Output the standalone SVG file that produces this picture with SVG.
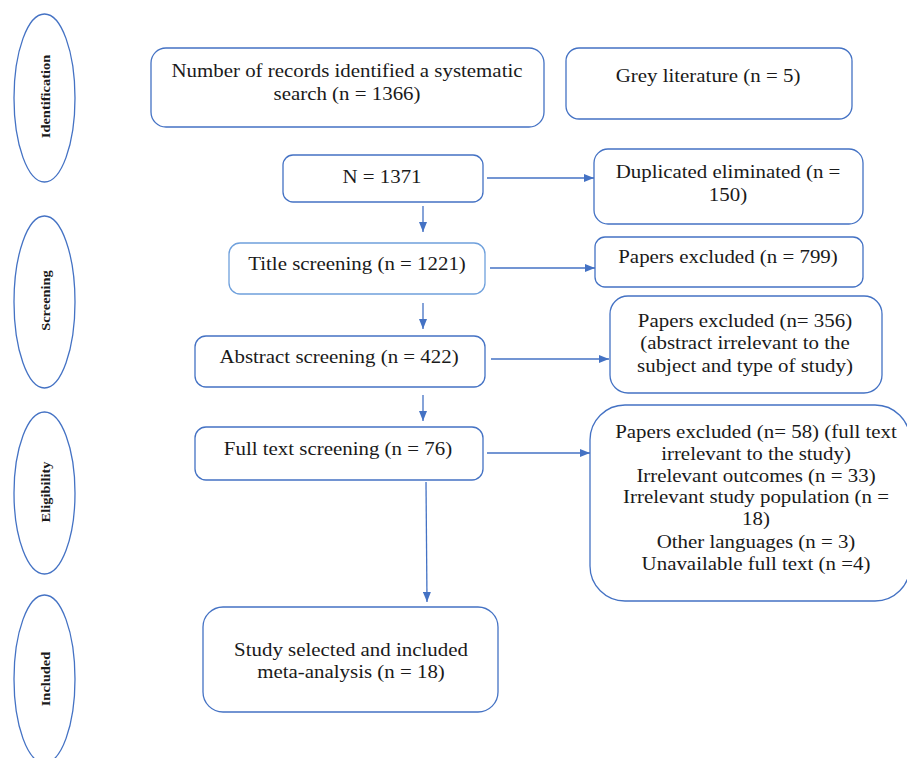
<svg xmlns="http://www.w3.org/2000/svg" width="907" height="758" viewBox="0 0 907 758">
<defs>
<style>
.box{fill:#fff;stroke:#4472C4;stroke-width:1.3}
.lbox{fill:#fff;stroke:#6FA0DC;stroke-width:1.3}
.stage{fill:#fff;stroke:#4472C4;stroke-width:1.3}
.t{font-family:"Liberation Serif","Times New Roman",serif;font-size:19px;fill:#1a1a1a;text-anchor:middle}
.s{font-family:"Liberation Serif","Times New Roman",serif;font-size:13.5px;font-weight:bold;fill:#1a1a1a;text-anchor:middle}
.c{fill:none;stroke:#4472C4;stroke-width:1.3}
</style>
<marker id="ah" markerWidth="10" markerHeight="8" refX="10" refY="4" orient="auto" markerUnits="userSpaceOnUse">
<path d="M0,0 L10,4 L0,8 Z" fill="#4472C4"/>
</marker>
</defs>
<rect width="907" height="758" fill="#fff"/>

<g id="stage-identification">
<ellipse class="stage" cx="44.5" cy="98" rx="30.5" ry="84"/>
<text class="s" transform="translate(50 96.5) rotate(-90) scale(1.07 1)">Identification</text>
</g>
<g id="stage-screening">
<ellipse class="stage" cx="44.5" cy="302" rx="30.5" ry="86"/>
<text class="s" transform="translate(50 300.5) rotate(-90) scale(1.07 1)">Screening</text>
</g>
<g id="stage-eligibility">
<ellipse class="stage" cx="44.5" cy="493" rx="30.5" ry="81"/>
<text class="s" transform="translate(50 492) rotate(-90) scale(1.07 1)">Eligibility</text>
</g>
<g id="stage-included">
<ellipse class="stage" cx="44.5" cy="679" rx="30.5" ry="84"/>
<text class="s" transform="translate(50 679) rotate(-90) scale(1.07 1)">Included</text>
</g>

<g id="records">
<rect class="box" x="151" y="48" width="393" height="79" rx="15"/>
<text class="t" transform="translate(347 77) scale(1.1 1)"><tspan x="0">Number of records identified a systematic</tspan><tspan x="0" dy="23">search (n = 1366)</tspan></text>
</g>
<g id="grey">
<rect class="box" x="566" y="48" width="286" height="71" rx="13"/>
<text class="t" transform="translate(708 82) scale(1.1 1)">Grey literature (n = 5)</text>
</g>
<g id="n1371">
<rect class="box" x="283" y="155" width="200" height="47" rx="10"/>
<text class="t" transform="translate(382 183) scale(1.1 1)">N = 1371</text>
</g>
<g id="duplicated">
<rect class="box" x="594" y="149" width="269" height="75" rx="14"/>
<text class="t" transform="translate(728 178) scale(1.1 1)"><tspan x="0">Duplicated eliminated (n =</tspan><tspan x="0" dy="23">150)</tspan></text>
</g>
<g id="title">
<rect class="lbox" x="229" y="243" width="256" height="51" rx="11"/>
<text class="t" transform="translate(357 270) scale(1.1 1)">Title screening (n = 1221)</text>
</g>
<g id="excl799">
<rect class="box" x="595" y="237" width="268" height="50" rx="10"/>
<text class="t" transform="translate(728 263) scale(1.1 1)">Papers excluded (n = 799)</text>
</g>
<g id="abstract">
<rect class="box" x="195" y="336" width="290" height="51" rx="11"/>
<text class="t" transform="translate(339 363) scale(1.1 1)">Abstract screening (n = 422)</text>
</g>
<g id="excl356">
<rect class="box" x="610" y="296" width="272" height="97" rx="18"/>
<text class="t" transform="translate(745 327) scale(1.1 1)"><tspan x="0">Papers excluded (n= 356)</tspan><tspan x="0" dy="22.5">(abstract irrelevant to the</tspan><tspan x="0" dy="22.5">subject and type of study)</tspan></text>
</g>
<g id="fulltext">
<rect class="box" x="195" y="427" width="288" height="53" rx="11"/>
<text class="t" transform="translate(338 455) scale(1.1 1)">Full text screening (n = 76)</text>
</g>
<g id="excl58">
<rect class="box" x="590" y="405" width="320" height="196" rx="35"/>
<text class="t" transform="translate(756 438) scale(1.1 1)"><tspan x="0">Papers excluded (n= 58) (full text</tspan><tspan x="0" dy="22">irrelevant to the study)</tspan><tspan x="0" dy="22">Irrelevant outcomes (n = 33)</tspan><tspan x="0" dy="21.5">Irrelevant study population (n =</tspan><tspan x="0" dy="22">18)</tspan><tspan x="0" dy="22.5">Other languages (n = 3)</tspan><tspan x="0" dy="22">Unavailable full text (n =4)</tspan></text>
</g>
<g id="included">
<rect class="box" x="203" y="607" width="295" height="105" rx="20"/>
<text class="t" transform="translate(351 656) scale(1.1 1)"><tspan x="0">Study selected and included</tspan><tspan x="0" dy="22">meta-analysis (n = 18)</tspan></text>
</g>

<g id="connectors">
<line class="c" x1="487" y1="178" x2="594" y2="178" marker-end="url(#ah)"/>
<line class="c" x1="423" y1="206" x2="423" y2="232" marker-end="url(#ah)"/>
<line class="c" x1="490" y1="268" x2="595" y2="268" marker-end="url(#ah)"/>
<line class="c" x1="423" y1="303" x2="423" y2="329" marker-end="url(#ah)"/>
<line class="c" x1="491" y1="359" x2="609" y2="359" marker-end="url(#ah)"/>
<line class="c" x1="423" y1="395" x2="423" y2="421" marker-end="url(#ah)"/>
<line class="c" x1="487" y1="453" x2="590" y2="453" marker-end="url(#ah)"/>
<line class="c" x1="426" y1="482" x2="427" y2="602" marker-end="url(#ah)"/>
</g>
</svg>
